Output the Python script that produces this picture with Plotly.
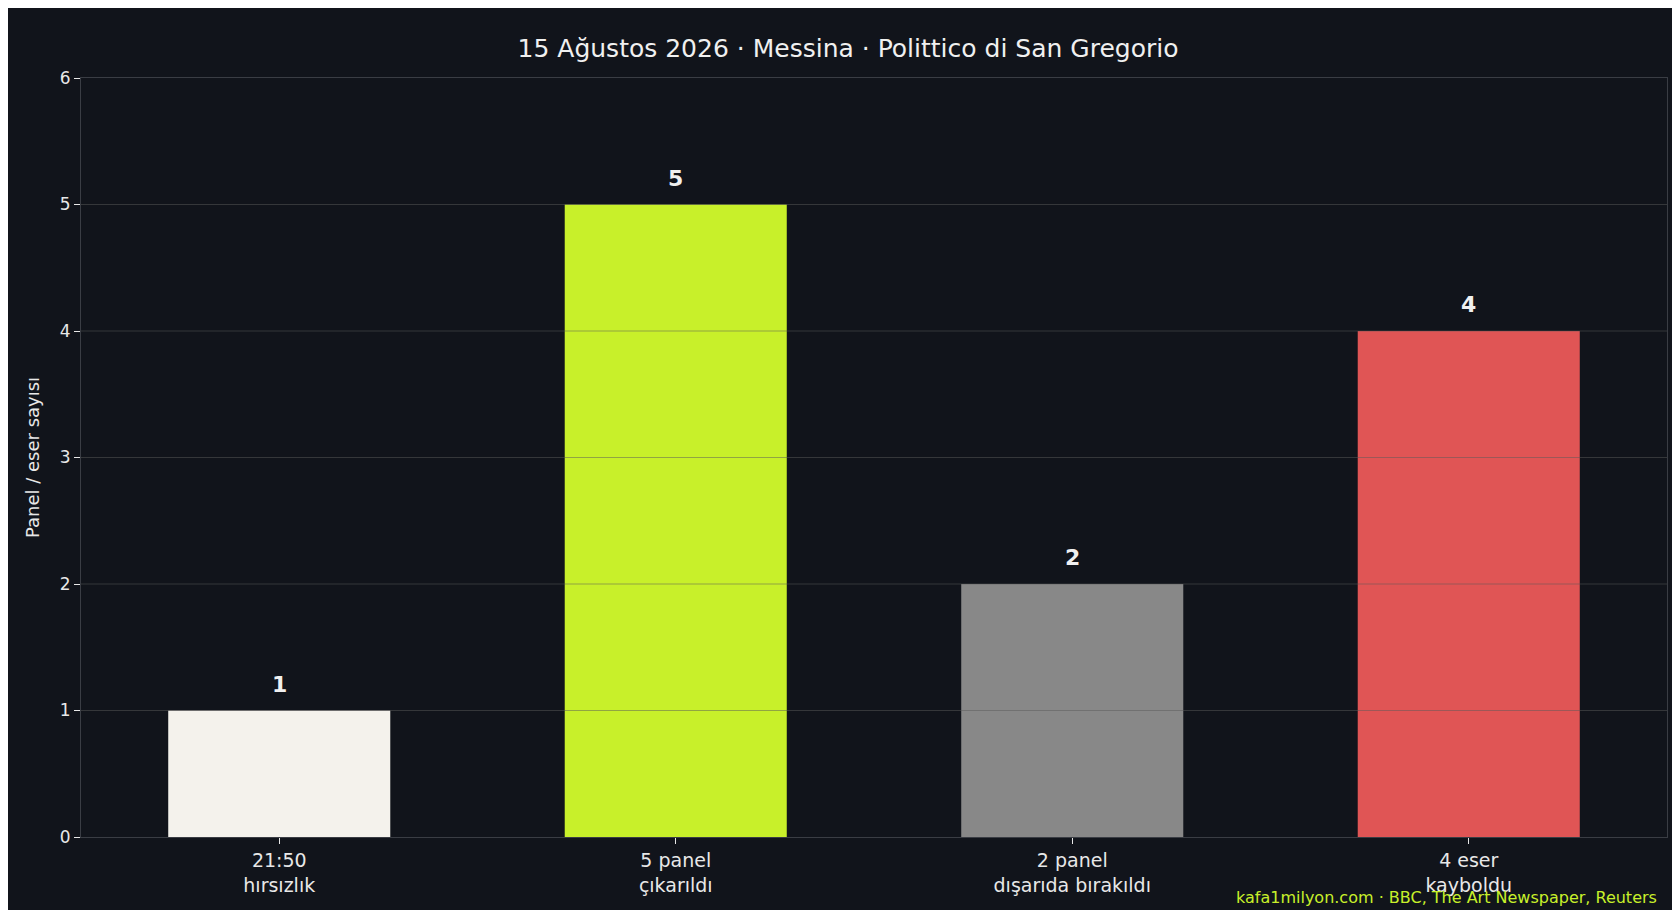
import plotly.graph_objects as go

categories = ["21:50<br>hırsızlık", "5 panel<br>çıkarıldı", "2 panel<br>dışarıda bırakıldı", "4 eser<br>kayboldu"]
values = [1, 5, 2, 4]
colors = ["#f4f2ec", "#c8f02a", "#888888", "#e05555"]
yticks = [0, 1, 2, 3, 4, 5, 6]

BG = "#11141b"
FONT = "DejaVu Sans"

fig = go.Figure(go.Bar(
    x=categories, y=values, marker_color=colors, marker_line_width=0, width=0.56,
))

# value labels above bars
for c, v in zip(categories, values):
    fig.add_annotation(x=c, y=v, text=f"<b>{v}</b>", showarrow=False, yanchor="bottom", yshift=12,
                       font=dict(size=22, color="#f0f0f0", family=FONT))

# grid lines drawn over the bars, like the reference
for t in yticks[1:-1]:
    fig.add_shape(type="line", xref="paper", x0=0, x1=1, yref="y", y0=t, y1=t,
                  line=dict(color="rgba(90,90,90,0.5)", width=1), layer="above")

fig.add_annotation(text="kafa1milyon.com · BBC, The Art Newspaper, Reuters",
                   xref="paper", yref="paper", x=0.995, y=-0.095, xanchor="right", yanchor="bottom",
                   showarrow=False, font=dict(size=16, color="#c8f02a", family=FONT))

fig.update_layout(
    width=1680, height=910, paper_bgcolor=BG, plot_bgcolor=BG,
    font=dict(family=FONT, color="#e8e8e8", size=17),
    title=dict(text="15 Ağustos 2026 · Messina · Polittico di San Gregorio", x=0.5, y=0.965,
               xanchor="center", font=dict(size=25, color="#f0f0f0")),
    margin=dict(l=73, r=21, t=70, b=81),
    showlegend=False,
)
fig.update_xaxes(showline=True, linecolor="#3a3d44", mirror=True, ticks="outside",
                 tickcolor="#e8e8e8", ticklen=6, tickfont=dict(size=19))
fig.update_yaxes(range=[0, 6], tickvals=yticks, showgrid=False, zeroline=False,
                 showline=True, linecolor="#3a3d44", mirror=True, ticks="outside",
                 tickcolor="#e8e8e8", ticklen=6, tickfont=dict(size=17),
                 title=dict(text="Panel / eser sayısı", font=dict(size=18)))

fig.write_html("out.html")
